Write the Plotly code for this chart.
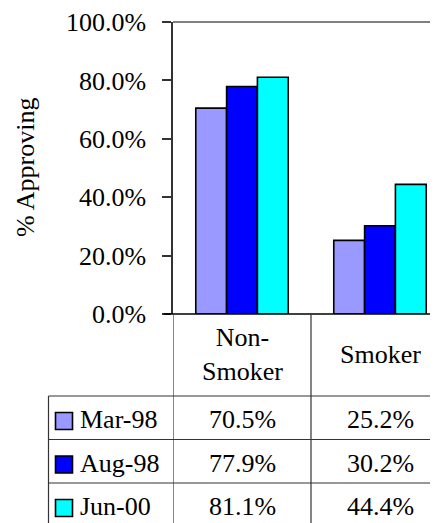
import plotly.graph_objects as go

categories = ["Non-Smoker", "Smoker"]
category_labels = ["Non-<br>Smoker", "Smoker"]
series_names = ["Mar-98", "Aug-98", "Jun-00"]
mar98 = [0.705, 0.252]
aug98 = [0.779, 0.302]
jun00 = [0.811, 0.444]
series_values = [mar98, aug98, jun00]
colors = ["#9999FF", "#0000FF", "#00FFFF"]
y_ticks = [0.0, 0.2, 0.4, 0.6, 0.8, 1.0]

# the page body has an 8px default margin; figure is sized to compensate
OFF = 8
WIN_W, WIN_H = 438, 523
W, H = WIN_W - OFF, WIN_H - OFF
# plot-area edges in window pixels
L, R, T, B = 173, 438, 22, 314
FONT = "Liberation Serif, Times New Roman, serif"
FS = 26


def pxx(x):
    return (x - L) / (R - L)


def pxy(y):
    return (B - y) / (B - T)


fig = go.Figure()
for name, vals, col in zip(series_names, series_values, colors):
    fig.add_trace(go.Bar(
        x=[0, 1], y=vals, name=name,
        marker=dict(color=col, line=dict(color="black", width=1.6)),
        hoverinfo="skip",
    ))

shapes = []
annotations = []

# top border line
shapes.append(dict(type="line", xref="paper", yref="paper", x0=0, x1=1, y0=1, y1=1,
                   line=dict(color="#808080", width=2)))
# x axis baseline (including 0% tick extension)
shapes.append(dict(type="line", xref="paper", yref="paper", x0=pxx(164), x1=1, y0=0, y1=0,
                   line=dict(color="black", width=1.5)))

line_col = "#333333"
# vertical table lines
for xv in [-0.5, 0.5]:
    shapes.append(dict(type="line", xref="x", yref="paper", x0=xv, x1=xv, y0=0, y1=pxy(WIN_H + 5),
                       line=dict(color=line_col, width=1.2)))
shapes.append(dict(type="line", xref="paper", yref="paper", x0=pxx(48.5), x1=pxx(48.5),
                   y0=pxy(396), y1=pxy(WIN_H + 5), line=dict(color=line_col, width=1.2)))
# horizontal table lines
row_tops = [396, 439.5, 483]
for ry in row_tops:
    shapes.append(dict(type="line", xref="paper", yref="paper", x0=pxx(48.5), x1=1,
                       y0=pxy(ry), y1=pxy(ry), line=dict(color=line_col, width=1.2)))

# header labels
header_y = pxy(354)
for i, lab in enumerate(category_labels):
    annotations.append(dict(x=i, y=header_y, xref="x", yref="paper", text=lab, showarrow=False,
                            font=dict(family=FONT, size=FS, color="black"), align="center",
                            xanchor="center", yanchor="middle"))

row_centers = [418, 461.5, 505]
for r, (name, vals, col) in enumerate(zip(series_names, series_values, colors)):
    cy = row_centers[r]
    # legend key
    shapes.append(dict(type="rect", xref="paper", yref="paper", x0=pxx(55.5), x1=pxx(72.5),
                       y0=pxy(cy + 3 + 8.5), y1=pxy(cy + 3 - 8.5), fillcolor=col,
                       line=dict(color="black", width=1.6)))
    annotations.append(dict(x=pxx(78), y=pxy(cy + 2), xref="paper", yref="paper", text=name,
                            showarrow=False, xanchor="left", yanchor="middle",
                            font=dict(family=FONT, size=FS, color="black")))
    for i, v in enumerate(vals):
        annotations.append(dict(x=i, y=pxy(cy + 2), xref="x", yref="paper", text=f"{v*100:.1f}%",
                                showarrow=False, xanchor="center", yanchor="middle",
                                font=dict(family=FONT, size=FS, color="black")))

# y-axis title
annotations.append(dict(x=pxx(25), y=0.5, xref="paper", yref="paper", text="% Approving",
                        textangle=-90, showarrow=False, xanchor="center", yanchor="middle",
                        font=dict(family=FONT, size=FS, color="black")))

fig.update_layout(
    width=W, height=H,
    margin=dict(l=L - OFF, r=WIN_W - R, t=T - OFF, b=WIN_H - B, pad=0),
    paper_bgcolor="white", plot_bgcolor="white",
    font=dict(family=FONT, size=FS, color="black"),
    barmode="group", bargap=0.33, bargroupgap=0,
    showlegend=False,
    shapes=shapes, annotations=annotations,
    xaxis=dict(range=[-0.5, -0.5 + (R - L) / 138.0], showticklabels=False, ticks="",
               showgrid=False, zeroline=False, showline=False, fixedrange=True),
    yaxis=dict(range=[0, 1], tickvals=y_ticks, tickformat=".1%", ticks="outside", ticklen=9,
               tickcolor="#333333", tickwidth=1.5, showgrid=False, zeroline=False,
               showline=True, linecolor="#333333", linewidth=1.5,
               tickfont=dict(family=FONT, size=FS, color="black"), ticklabelstandoff=11),
)

fig.write_html("out.html")
